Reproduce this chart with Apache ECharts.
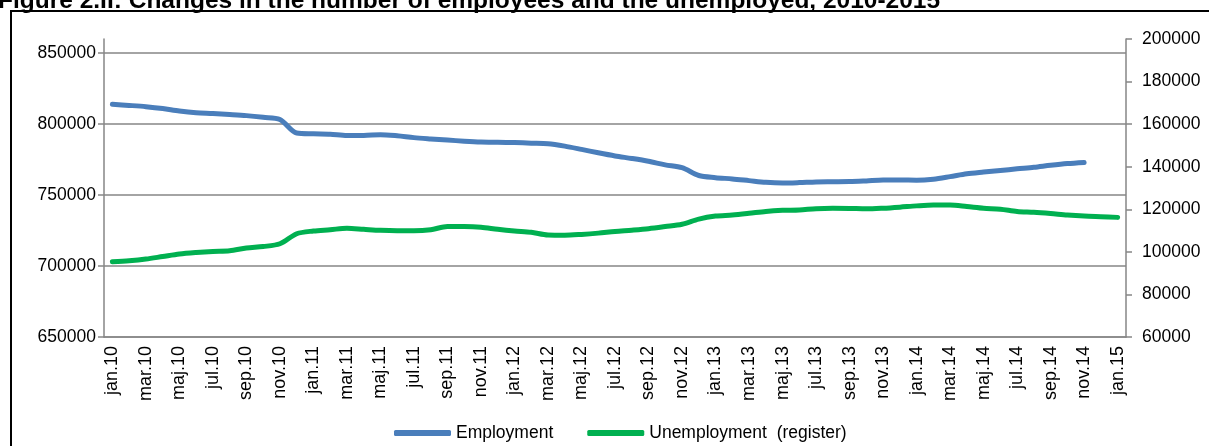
<!DOCTYPE html>
<html>
<head>
<meta charset="utf-8">
<style>
  html, body { margin: 0; padding: 0; background: #fff; overflow: hidden; }
  #chart { width: 100%; height: 100vh; }
</style>
<script src="https://cdn.jsdelivr.net/npm/echarts@6/dist/echarts.min.js"></script>
</head>
<body>
<div id="chart"></div>
<script>
// Monthly series, January 2010 - January 2015
const monthNames = ['jan', 'feb', 'mar', 'apr', 'maj', 'jun', 'jul', 'avg', 'sep', 'okt', 'nov', 'dec'];
const years = ['10', '11', '12', '13', '14', '15'];

// Number of employees (left axis); last reading is November 2014
const employment = [
  814000, 813200, 812300, 811000, 809200, 808000, 807500, 806800, 806000, 804800, 803300, 793800,
  793200, 792900, 792000, 792000, 792600, 791800, 790500, 789600, 788800, 788000, 787400, 787200,
  787000, 786600, 786200, 784500, 782200, 779800, 777600, 775800, 773800, 771300, 769300, 763800,
  762300, 761400, 760200, 759000, 758500, 758800, 759300, 759400, 759500, 760000, 760600, 760600,
  760500, 761200, 763000, 765000, 766200, 767300, 768500, 769600, 771000, 772200, 773000, null,
  null
];

// Registered unemployed (right axis)
const unemployment = [
  95300, 95800, 96600, 97800, 99000, 99700, 100200, 100500, 101800, 102500, 103800, 108500,
  109800, 110400, 111100, 110600, 110100, 109900, 109900, 110400, 111900, 111900, 111600, 110600,
  109800, 109200, 107900, 107800, 108200, 108800, 109600, 110200, 110900, 111900, 113000, 115400,
  116800, 117300, 118100, 119000, 119500, 119700, 120300, 120500, 120400, 120200, 120500, 121000,
  121600, 122000, 122000, 121300, 120500, 120000, 119000, 118600, 118000, 117300, 116800, 116500,
  116200
];

const leftTicks = [650000, 700000, 750000, 800000, 850000];
const rightTicks = [60000, 80000, 100000, 120000, 140000, 160000, 180000, 200000];

const categories = [];
years.forEach(function (y) {
  monthNames.forEach(function (m) {
    if (categories.length < employment.length) categories.push(m + '.' + y);
  });
});

const axisGrey = '#868686';
const sans = '"Liberation Sans", Arial, Helvetica, sans-serif';
const plain = function (v) { return String(v); };

const chart = echarts.init(document.getElementById('chart'), null, { renderer: 'canvas' });
// plot area spans x 104 .. 1126 in page coordinates
const gridRight = Math.max(0, chart.getWidth() - 1126);

chart.setOption({
  animation: false,
  backgroundColor: '#ffffff',
  title: {
    text: 'Figure 2.II: Changes in the number of employees and the unemployed, 2010-2015',
    left: -2,
    top: -11,
    padding: 0,
    textStyle: {
      fontFamily: sans,
      fontWeight: 'bold',
      fontSize: 24.5,
      color: '#000'
    }
  },
  graphic: [{
    type: 'rect',
    silent: true,
    shape: { x: 11, y: 11, width: 1400, height: 600 },
    style: { fill: 'none', stroke: '#000', lineWidth: 2 }
  }],
  grid: { left: 104, right: gridRight, top: 39, bottom: 109, containLabel: false },
  legend: {
    bottom: -1,
    left: 389,
    itemWidth: 57,
    itemHeight: 6,
    itemGap: 34,
    icon: 'roundRect',
    textStyle: { fontFamily: sans, fontSize: 17.5, color: '#000' },
    data: ['Employment', 'Unemployment  (register)']
  },
  xAxis: {
    type: 'category',
    data: categories,
    boundaryGap: true,
    axisLine: { lineStyle: { color: axisGrey, width: 1.5 } },
    axisTick: { interval: 1, length: 6, lineStyle: { color: axisGrey, width: 1.5 } },
    axisLabel: {
      interval: 1,
      rotate: 90,
      margin: 9,
      fontFamily: sans,
      fontSize: 18,
      color: '#000'
    },
    splitLine: { show: false }
  },
  yAxis: [{
    type: 'value',
    position: 'left',
    min: 650000,
    max: 860000,
    interval: 50000,
    axisLine: { show: true, lineStyle: { color: axisGrey, width: 1.5 } },
    axisTick: { show: true, length: 6, customValues: leftTicks, lineStyle: { color: axisGrey, width: 1.5 } },
    axisLabel: {
      customValues: leftTicks,
      formatter: plain,
      margin: 8,
      fontFamily: sans,
      fontSize: 17.5,
      color: '#000'
    },
    splitLine: {
      show: true,
      lineStyle: {
        color: [axisGrey, axisGrey, axisGrey, axisGrey, axisGrey, 'rgba(0,0,0,0)'],
        width: 1.5
      }
    }
  }, {
    type: 'value',
    position: 'right',
    min: rightTicks[0],
    max: rightTicks[rightTicks.length - 1],
    interval: 20000,
    axisLine: { show: true, lineStyle: { color: axisGrey, width: 1.5 } },
    axisTick: { show: true, length: 6, lineStyle: { color: axisGrey, width: 1.5 } },
    axisLabel: {
      formatter: plain,
      margin: 16,
      fontFamily: sans,
      fontSize: 17.5,
      color: '#000'
    },
    splitLine: { show: false }
  }],
  series: [{
    name: 'Employment',
    type: 'line',
    yAxisIndex: 0,
    data: employment,
    smooth: 0.3,
    showSymbol: false,
    symbol: 'none',
    connectNulls: false,
    itemStyle: { color: '#4a7ebb' },
    lineStyle: { color: '#4a7ebb', width: 5, cap: 'round', join: 'round' }
  }, {
    name: 'Unemployment  (register)',
    type: 'line',
    yAxisIndex: 1,
    data: unemployment,
    smooth: 0.3,
    showSymbol: false,
    symbol: 'none',
    itemStyle: { color: '#00b050' },
    lineStyle: { color: '#00b050', width: 5, cap: 'round', join: 'round' }
  }]
});
</script>
</body>
</html>
